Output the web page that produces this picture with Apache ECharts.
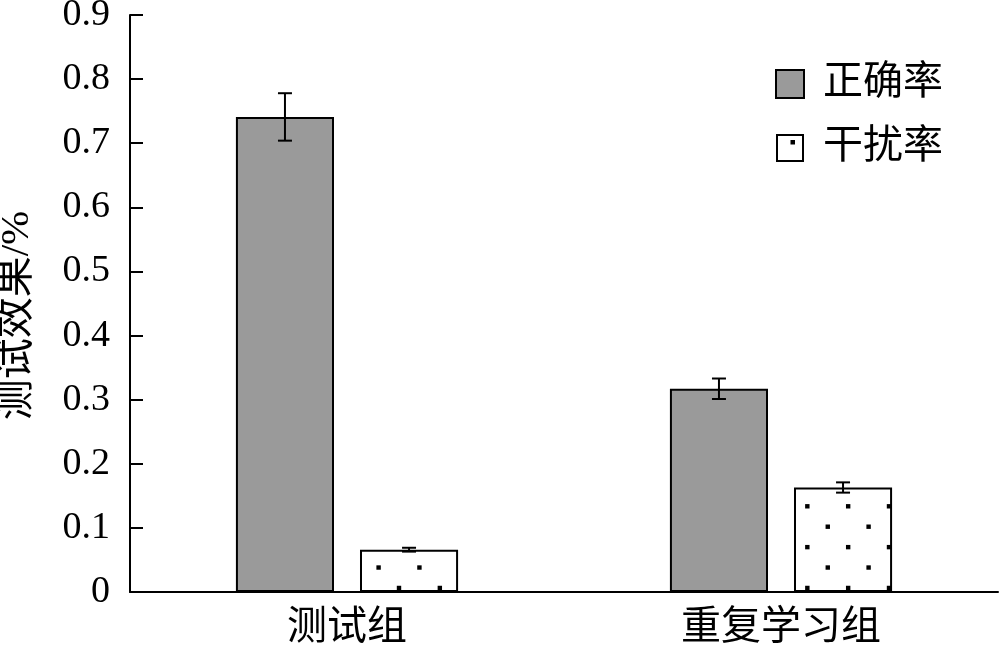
<!DOCTYPE html>
<html>
<head>
<meta charset="utf-8">
<script src="https://cdn.jsdelivr.net/npm/echarts@6/dist/echarts.min.js"></script>
<style>
html,body{margin:0;padding:0;background:#fff;}
#chart{width:1000px;height:651px;}
</style>
</head>
<body>
<div id="chart"></div>
<script>
// ---- data ----
const categories = ['测试组', '重复学习组'];
const seriesNames = ['正确率', '干扰率'];
const accuracy = [0.741, 0.317];
const interference = [0.066, 0.163];
const accuracyErr = [0.037, 0.016];
const interferenceErr = [0.003, 0.008];
const yTickLabels = ['0', '0.1', '0.2', '0.3', '0.4', '0.5', '0.6', '0.7', '0.8', '0.9'];

// ---- styles ----
const CJK = '"Liberation Serif", "Noto Sans CJK SC"';
const BAR_W = 0.226;   // fraction of band
const BAR_GAP = 0.265; // fraction of bar width

function makeDotPattern() {
  const size = 245, p = size / 6;
  const c = document.createElement('canvas');
  c.width = size; c.height = size;
  const ctx = c.getContext('2d');
  ctx.fillStyle = '#ffffff';
  ctx.fillRect(0, 0, size, size);
  ctx.fillStyle = '#000000';
  const d = 4.4;
  for (let i = -1; i <= 6; i++) {
    for (let j = -1; j <= 6; j++) {
      const ax = 31.5 + p * i, ay = 16.3 + p * j;
      ctx.fillRect(ax - d / 2, ay - d / 2, d, d);
      const bx = 11.1 + p * i, by = 36.7 + p * j;
      ctx.fillRect(bx - d / 2, by - d / 2, d, d);
    }
  }
  return c;
}
function makeLegendIcon() {
  const s = 28;
  const c = document.createElement('canvas');
  c.width = s; c.height = s;
  const ctx = c.getContext('2d');
  ctx.fillStyle = '#ffffff';
  ctx.fillRect(0, 0, s, s);
  ctx.strokeStyle = '#000';
  ctx.lineWidth = 2;
  ctx.strokeRect(1, 1, s - 2, s - 2);
  ctx.fillStyle = '#000';
  ctx.fillRect(14.5, 6, 4.5, 4.5);
  return c.toDataURL();
}

const errData = [];
categories.forEach((c, i) => {
  errData.push([i, accuracy[i], accuracyErr[i], -1]);
  errData.push([i, interference[i], interferenceErr[i], 1]);
});

const chart = echarts.init(document.getElementById('chart'), null, {renderer: 'canvas'});
chart.setOption({
  animation: false,
  backgroundColor: '#ffffff',
  grid: {left: 130, right: 2, top: 15, bottom: 59, containLabel: false, outerBoundsMode: 'none'},
  legend: {
    orient: 'vertical',
    left: 770, top: 59,
    itemWidth: 28, itemHeight: 28, itemGap: 24,
    textStyle: {fontFamily: CJK, fontSize: 40, color: '#000', padding: [0, 0, 0, 14]},
    data: [
      {name: seriesNames[0], icon: 'rect'},
      {name: seriesNames[1], icon: 'image://' + makeLegendIcon()}
    ]
  },
  xAxis: {
    type: 'category',
    data: categories,
    axisLine: {lineStyle: {color: '#000', width: 2}},
    axisTick: {inside: true, length: 15, lineStyle: {color: '#000', width: 2}},
    axisLabel: {fontFamily: CJK, fontSize: 40, color: '#000', margin: 16}
  },
  yAxis: {
    type: 'value',
    min: 0, max: 0.9, interval: 0.1,
    name: '测试效果/%',
    nameLocation: 'middle',
    nameGap: 92,
    nameTextStyle: {fontFamily: CJK, fontSize: 41, color: '#000', padding: [0, 24, 0, 0]},
    axisLine: {show: true, lineStyle: {color: '#000', width: 2}},
    axisTick: {show: true, inside: true, length: 13, lineStyle: {color: '#000', width: 2}},
    splitLine: {show: false},
    axisLabel: {
      fontFamily: '"Liberation Serif"', fontSize: 38, color: '#000', margin: 20,
      formatter: (v) => yTickLabels[Math.round(v * 10)]
    }
  },
  series: [
    {
      name: seriesNames[0], type: 'bar', data: accuracy,
      barWidth: (BAR_W * 100) + '%', barGap: (BAR_GAP * 100) + '%',
      itemStyle: {color: '#9a9a9a', borderColor: '#000', borderWidth: 2}
    },
    {
      name: seriesNames[1], type: 'bar', data: interference,
      barWidth: (BAR_W * 100) + '%', barGap: (BAR_GAP * 100) + '%',
      itemStyle: {color: {image: makeDotPattern(), repeat: 'repeat'}, borderColor: '#000', borderWidth: 2}
    },
    {
      name: 'error', type: 'custom', z: 5,
      data: errData,
      renderItem: function (params, api) {
        const ci = api.value(0), v = api.value(1), e = api.value(2), side = api.value(3);
        const band = api.size([1, 0])[0];
        const bw = band * BAR_W;
        const off = side * (bw + bw * BAR_GAP) / 2;
        const top = api.coord([ci, v + e]);
        const bot = api.coord([ci, v - e]);
        const x = top[0] + off;
        const hw = 7;
        const st = {stroke: '#000', lineWidth: 2};
        return {
          type: 'group',
          children: [
            {type: 'line', shape: {x1: x, y1: top[1], x2: x, y2: bot[1]}, style: st},
            {type: 'line', shape: {x1: x - hw, y1: top[1], x2: x + hw, y2: top[1]}, style: st},
            {type: 'line', shape: {x1: x - hw, y1: bot[1], x2: x + hw, y2: bot[1]}, style: st}
          ]
        };
      }
    }
  ]
});
</script>
</body>
</html>
